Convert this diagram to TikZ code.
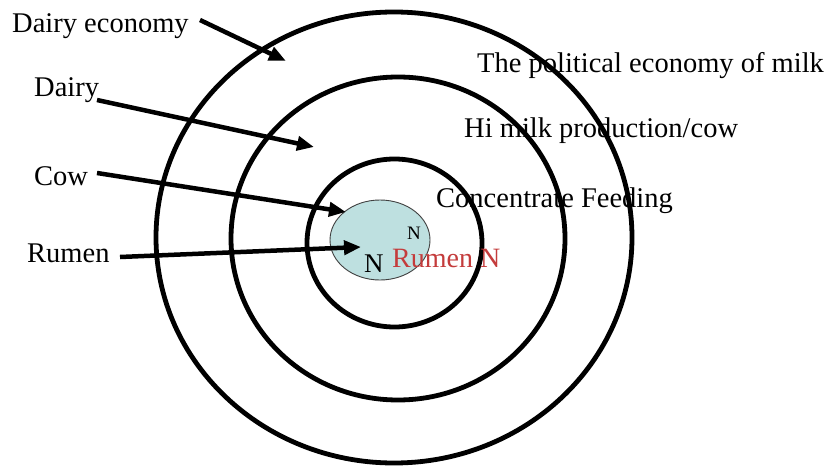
\documentclass[tikz,border=0pt]{standalone}
\usepackage{fontspec}
\setmainfont{Liberation Serif}
\usetikzlibrary{arrows.meta}
\definecolor{rumenblue}{HTML}{BEE0E0}
\definecolor{rumenred}{HTML}{C43C3C}
\tikzset{
  ring/.style={line width=4.8pt, draw=black},
  lbl/.style={anchor=base west, inner sep=0pt, font=\fontsize{28.5}{30}\selectfont},
  pointer/.style={line width=4.5pt, -{Triangle[length=17pt,width=14pt]}, shorten >=0pt},
}
\begin{document}
\begin{tikzpicture}[x=1pt,y=-1pt]
\useasboundingbox[fill=white] (0,0) rectangle (834,468);
% rings
\draw[ring] (394,237.5) ellipse [x radius=238, y radius=225.5];
\draw[ring] (398,238.5) ellipse [x radius=167, y radius=161.5];
\draw[ring] (394.5,243) ellipse [x radius=87.5, y radius=84];
% rumen
\draw[fill=rumenblue, draw=black!75, line width=0.9pt] (380,240) ellipse [x radius=50, y radius=40];
\node[anchor=center, inner sep=0pt, font=\fontsize{19}{20}\selectfont] (nsmall) at (414,233) {N};
\node[lbl, font=\fontsize{27}{28}\selectfont] (nbig) at (364,272) {N};
\node[lbl, text=rumenred, font=\fontsize{28}{29}\selectfont] (rumenN) at (392,267) {Rumen N};
% labels
\node[lbl] (deco) at (12,33) {Dairy economy};
\node[lbl] (dairy) at (34,97) {Dairy};
\node[lbl] (cow) at (34,185) {Cow};
\node[lbl] (rumen) at (27,262) {Rumen};
\node[lbl] (pol) at (477,73) {The political economy of milk};
\node[lbl] (hi) at (464,137) {Hi milk production/cow};
\node[lbl] (conc) at (436,207) {Concentrate Feeding};
% arrows
\coordinate (a1s) at (200,20);  \coordinate (a1e) at (286,61);
\coordinate (a2s) at (97,100);  \coordinate (a2e) at (314,147);
\coordinate (a3s) at (97,173);  \coordinate (a3e) at (346,212);
\coordinate (a4s) at (120,257); \coordinate (a4e) at (361,247);
\draw[pointer] (a1s) -- (a1e);
\draw[pointer] (a2s) -- (a2e);
\draw[pointer] (a3s) -- (a3e);
\draw[pointer] (a4s) -- (a4e);
\end{tikzpicture}
\end{document}
